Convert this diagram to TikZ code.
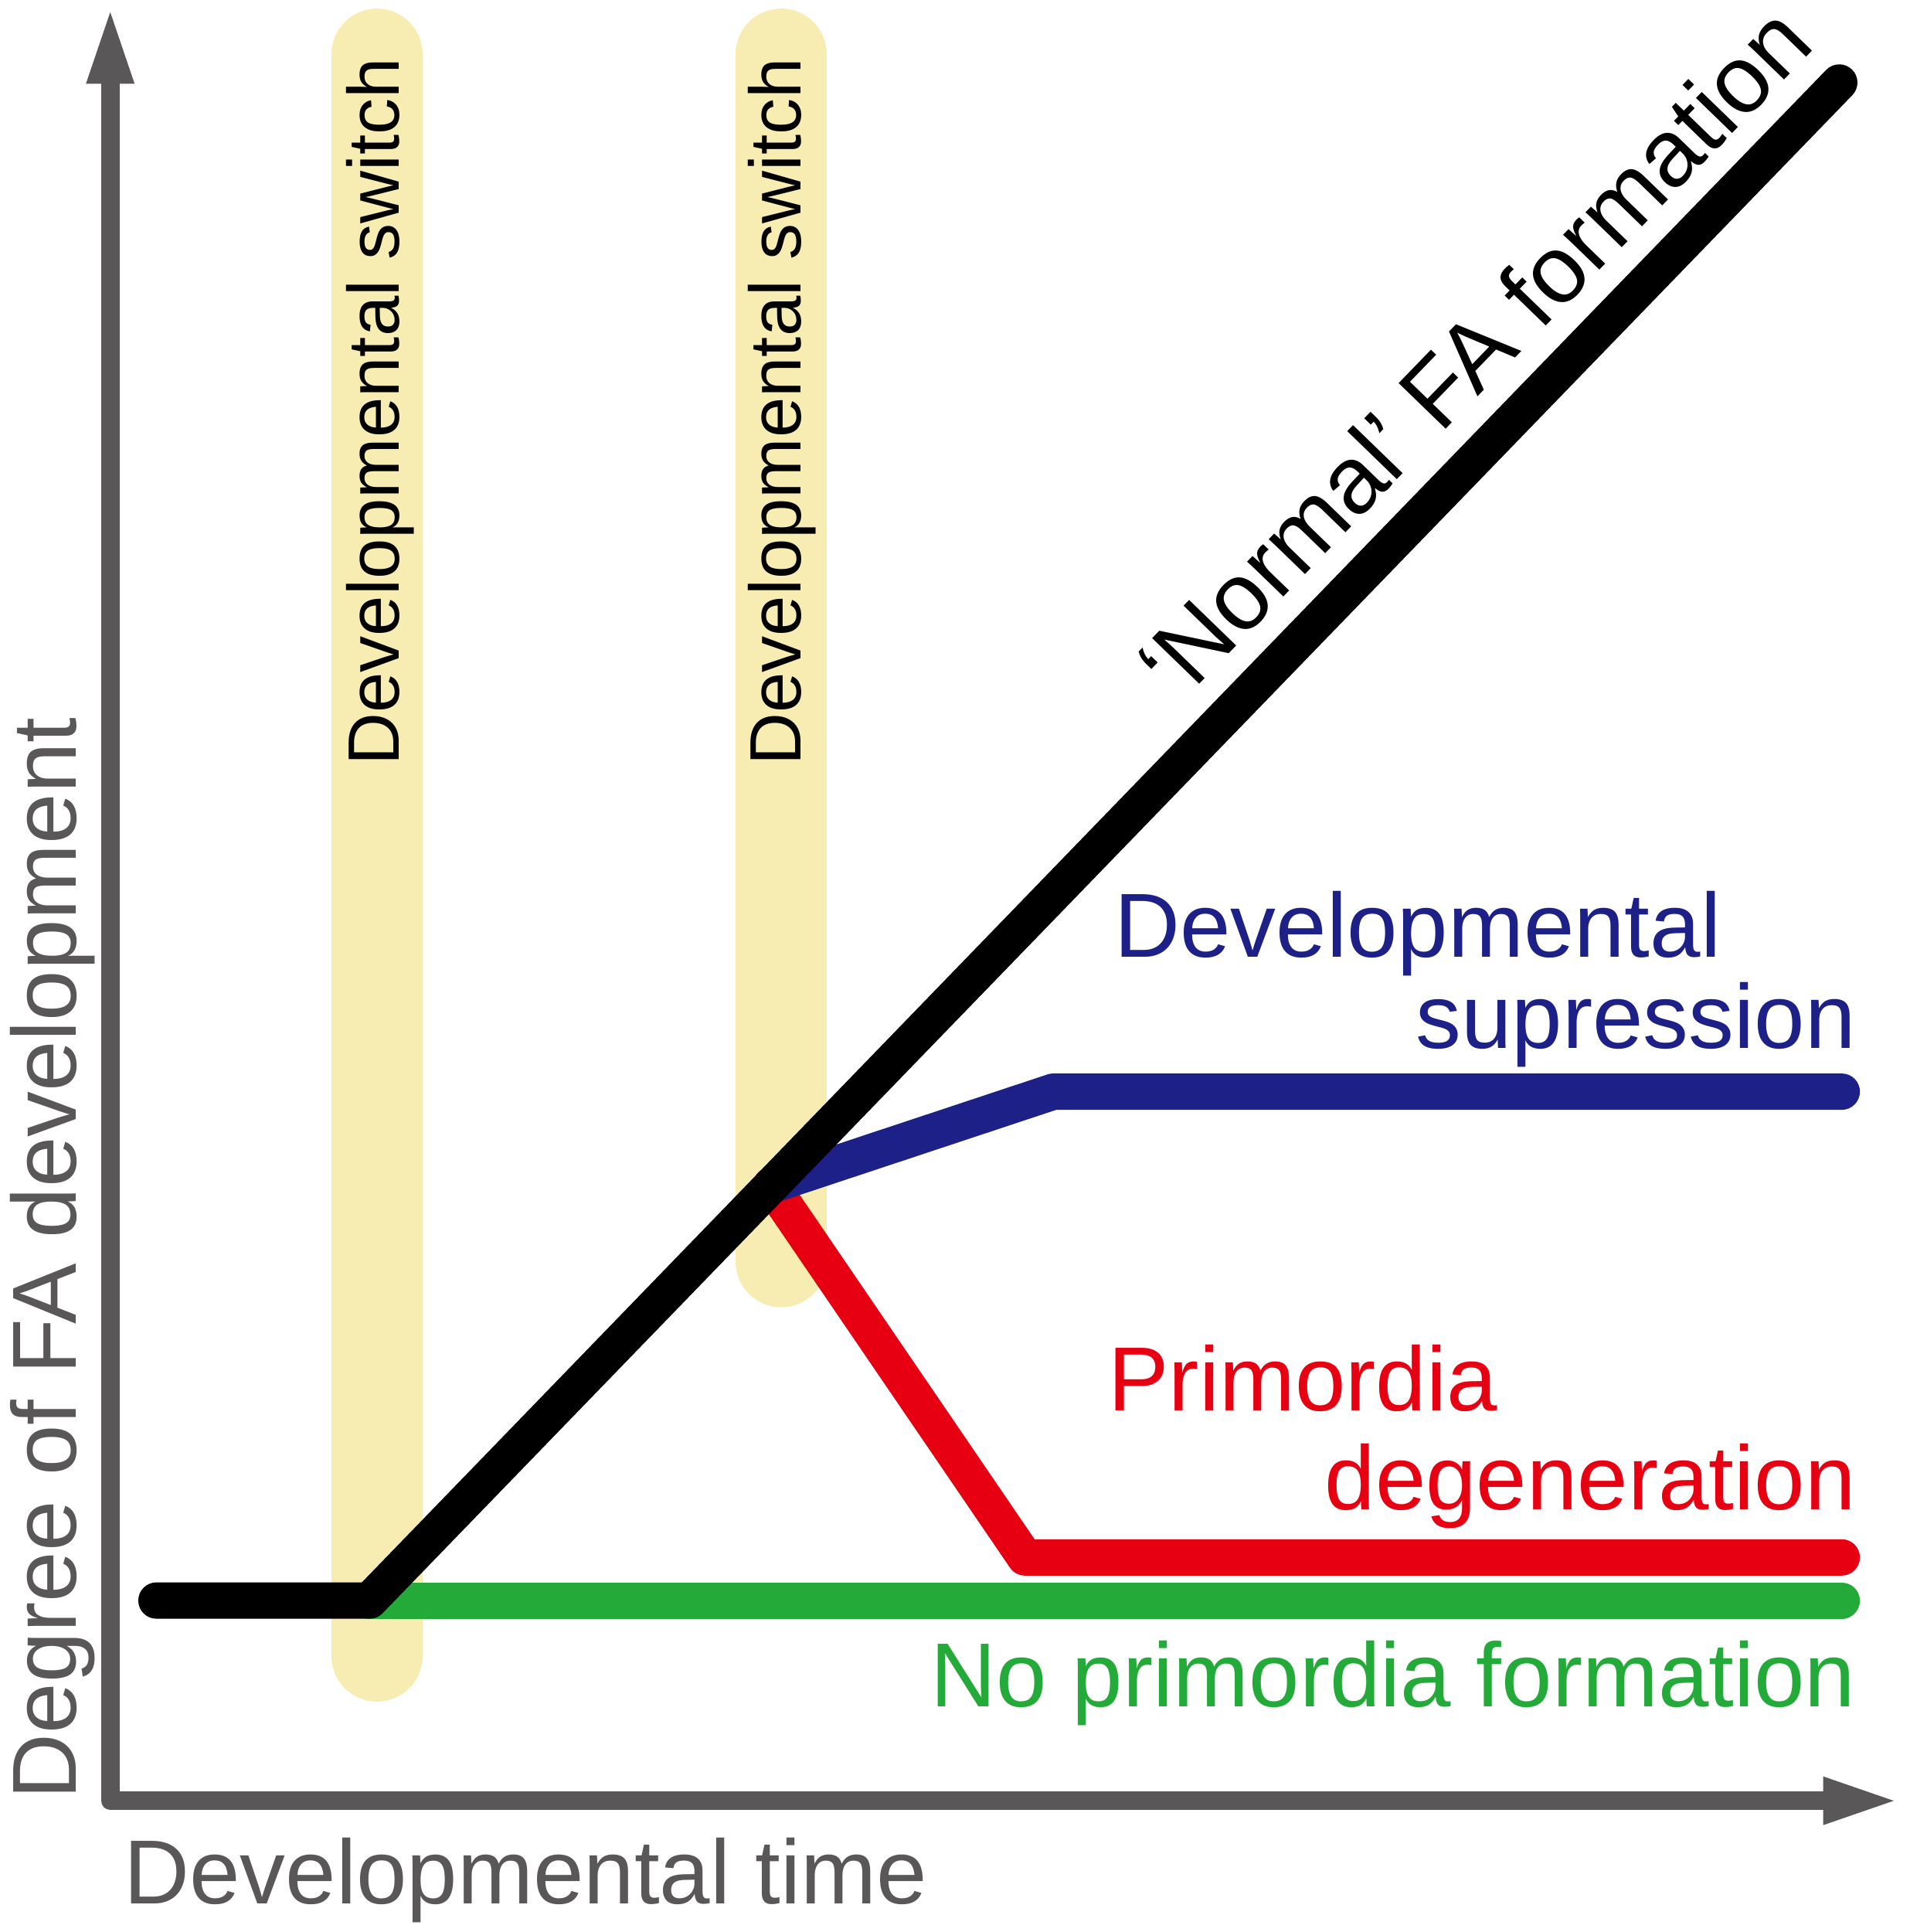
\documentclass[tikz,border=0pt]{standalone}
\usepackage{fontspec}
\setmainfont{Liberation Sans}
\usetikzlibrary{arrows.meta}
\usetikzlibrary{positioning}
\definecolor{axisgray}{RGB}{89,87,87}
\definecolor{switchyellow}{RGB}{247,237,179}
\definecolor{supblue}{RGB}{29,32,135}
\definecolor{degred}{RGB}{230,0,18}
\definecolor{noformgreen}{RGB}{35,170,56}
\newcommand{\bigfont}{\fontsize{21}{25}\selectfont}
\tikzset{axis/.style={draw=axisgray, line width=1.5mm, line join=round},
	switchbar/.style={draw=switchyellow, line width=7.4mm, line cap=round},
	trend/.style={line width=2.95mm, line cap=round, line join=round},
	bigtext/.style={font=\bigfont, inner sep=0pt},
	switchtext/.style={font=\fontsize{16.8}{20}\selectfont, inner sep=0pt, rotate=90, anchor=base west}}

\begin{document}
\begin{tikzpicture}
					\useasboundingbox (0,0) rectangle (15.5,15.68);
					
					\draw[switchbar] (3.06,15.24) -- (3.06,2.24);
					\draw[switchbar] (6.34,15.24) -- (6.34,5.44);
					\node[switchtext] (switchA) at (3.24,9.46) {Developmental switch};
					\node[switchtext] (switchB) at (6.50,9.46) {Developmental switch};
					
					\coordinate (ytip) at (0.895,15.64);
					\coordinate (origin) at (0.895,1.065);
					\coordinate (xtip) at (15.43,1.065);
					\draw[axis, {Triangle[length=6.4mm,width=3.4mm]}-{Triangle[length=6.3mm,width=3.4mm]}] (ytip) -- (origin) -- (xtip);
					
					\node[bigtext, text=axisgray, rotate=90, anchor=base west] (ylabel) at (0.617,1.07) {Degree of FA development};
					\node[bigtext, text=axisgray, anchor=base west] (xlabel) at (1.00,0.23) {Developmental time};
					
					\coordinate (start) at (1.27,2.69);
					\coordinate (switch) at (3.00,2.69);
					\coordinate (top) at (14.93,15.01);
					\coordinate (split) at (6.26,6.06);
					\coordinate (supcorner) at (8.55,6.82);
					\coordinate (supend) at (14.95,6.82);
					\coordinate (degcorner) at (8.32,3.04);
					\coordinate (degend) at (14.95,3.04);
					\coordinate (noformend) at (14.95,2.69);
					
					\draw[trend, noformgreen] (switch) -- (noformend);
					\draw[trend, degred] (split) -- (degcorner) -- (degend);
					\draw[trend, supblue] (split) -- (supcorner) -- (supend);
					\draw[trend, black] (start) -- (switch) -- (top)
						node[pos=0.788, sloped, above=1.8mm, bigtext, font=\fontsize{22}{26}\selectfont] (normal) {‘Normal’ FA formation};
					
					\node[bigtext, text=supblue, anchor=base west] (supA) at (9.04,7.91) {Developmental};
					\node[bigtext, text=supblue, anchor=base east] (supB) at (15.07,7.17) {supression};
					\node[bigtext, text=degred, anchor=base west] (degA) at (8.99,4.23) {Primordia};
					\node[bigtext, text=degred, anchor=base east] (degB) at (15.07,3.43) {degeneration};
					\node[bigtext, text=noformgreen, anchor=base east] (noform) at (15.07,1.83) {No primordia formation};
					
				\end{tikzpicture}
\end{document}
